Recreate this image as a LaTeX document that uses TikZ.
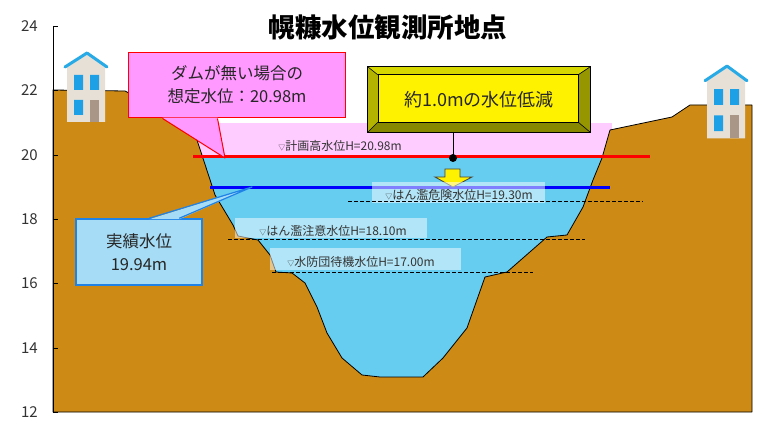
\documentclass[tikz,border=0pt]{standalone}
\usepackage{fontspec}
\setmainfont{Noto Sans CJK JP}
\usetikzlibrary{calc}

\definecolor{ground}{RGB}{205,139,22}
\definecolor{water}{RGB}{102,204,240}
\definecolor{floodpink}{RGB}{255,204,255}
\definecolor{calloutpink}{RGB}{255,153,255}
\definecolor{calloutblue}{RGB}{166,220,245}
\definecolor{calloutedge}{RGB}{30,130,230}
\definecolor{housewall}{RGB}{230,224,214}
\definecolor{winblue}{RGB}{30,160,230}
\definecolor{roofblue}{RGB}{40,170,230}
\definecolor{doorbrown}{RGB}{170,150,135}
\definecolor{bevellight}{RGB}{214,214,0}
\definecolor{beveldark}{RGB}{150,150,0}
\definecolor{bevelmid}{RGB}{180,180,0}
\definecolor{labeltext}{RGB}{51,51,51}

\tikzset{
  axislabel/.style={anchor=east, text=labeltext, font=\fontsize{15}{15}\selectfont, inner sep=0pt},
  levelbox/.style={fill=white, fill opacity=0.5, inner sep=0pt},
  leveltext/.style={text=labeltext, font=\fontsize{12}{12}\selectfont, inner sep=0pt},
  levelline/.style={black, line width=1pt, dash pattern=on 4pt off 2pt},
  house/.pic={
    \fill[housewall] (-20,15) -- (0,2) -- (18,15) -- (18,70) -- (-20,70) -- cycle;
    \draw[roofblue, line width=3pt, line join=round, line cap=round] (-22,15) -- (0,1) -- (20,15);
    \fill[winblue] (-13,23) rectangle (-4,38) (3,23) rectangle (12,38) (-13,48) rectangle (-4,63);
    \fill[doorbrown] (3,48) rectangle (12,70);
  }
}

\newcommand{\tri}{{\fontsize{7}{7}\selectfont ▽}}

\begin{document}
\begin{tikzpicture}[x=1pt, y=-1pt]
\useasboundingbox (0,0) rectangle (769,433);
\fill[white] (0,0) rectangle (769,433);

% flood zone above the water surface and the river water
\fill[floodpink] (165,123) rectangle (612,157);
\fill[water] (165,157) rectangle (612,400);

% ground cross-section
\filldraw[fill=ground, draw=black, line width=0.8pt, line join=round]
  (53,412) -- (53,90) -- (125,91) -- (165,112) -- (190,128) -- (197,140)
  -- (215,195) -- (233,225) -- (238,236) -- (258,240) -- (270,255) -- (276,272)
  -- (292,273) -- (305,283) -- (317,307) -- (327,333) -- (342,358) -- (362,375)
  -- (380,377) -- (423,377) -- (443,358) -- (467,328) -- (485,277) -- (507,272)
  -- (547,237) -- (567,235) -- (583,207) -- (593,180) -- (602,158) -- (610,130)
  -- (672,117) -- (690,105) -- (752,105) -- (752,412) -- cycle;

% vertical axis
\draw[black, line width=0.8pt] (53,26) -- (53,412);
\foreach \v/\py in {24/26,22/90,20/155,18/219,16/283,14/348,12/412}{
  \draw[black, line width=0.8pt] (53,\py) -- (58,\py);
  \node[axislabel] (lab\v) at (38,\py) {\v};
}

% planned high water level and recorded water level
\draw[red, line width=3pt] (193,157) -- (650,157);
\draw[blue, line width=3pt] (210,188) -- (610,188);

% lowering marker
\coordinate (dot) at (453,158);
\begin{scope}[shift={(dot)}]
  \filldraw[fill=yellow, draw=black!75, line width=0.8pt, line join=miter]
    (-8,11) -- (7,11) -- (7,19) -- (19,19) -- (0,29) -- (-18,19) -- (-8,19) -- cycle;
\end{scope}

% level labels
\node[leveltext] (t2098) at (340,146) {\tri 計画高水位H=20.98m};

\node[levelbox, minimum width=173pt, minimum height=21pt] (b1930) at (458.5,192.5) {};
\node[leveltext] (t1930) at (459,195) {\tri はん濫危険水位H=19.30m};

\node[levelbox, minimum width=192pt, minimum height=20pt] (b1810) at (331,228) {};
\node[leveltext] (t1810) at (333,231) {\tri はん濫注意水位H=18.10m};

\node[levelbox, minimum width=191pt, minimum height=22pt] (b1700) at (365.5,259) {};
\node[leveltext] (t1700) at (361,262) {\tri 水防団待機水位H=17.00m};

\draw[levelline] (348,202) -- (643,202);
\draw[levelline] (228,239) -- (585,239);
\draw[levelline] (272,272) -- (533,272);

% houses on both banks
\pic at (87,52) {house};
\pic[yscale=1.05] at (727,65) {house};

% callout: level without the dam
\node[fill=calloutpink, draw=red, line width=1pt, minimum width=217pt, minimum height=65pt,
      inner sep=0pt] (pk) at (236.5,85.5) {};
\coordinate (pktip) at (225,158);
\fill[calloutpink] ($(pk.south west)+(35,-0.8)$) -- ($(pk.south west)+(90,-0.8)$) -- (pktip) -- cycle;
\draw[red, line width=1pt, line join=round] ($(pk.south west)+(35,0)$) -- (pktip) -- ($(pk.south west)+(90,0)$);
\node[align=center, text=black!85, font=\fontsize{16.5}{23}\selectfont] (pktext) at (237,85)
  {ダムが無い場合の\\想定水位：20.98m};

% callout: recorded level
\node[fill=calloutblue, draw=calloutedge, line width=1.5pt, minimum width=126pt, minimum height=66pt,
      inner sep=0pt] (jb) at (139,252) {};
\coordinate (jbtip) at (252,187);
\fill[calloutblue] ($(jb.north west)+(74,1)$) -- ($(jb.north west)+(104,1)$) -- (jbtip) -- cycle;
\draw[calloutedge, line width=1.2pt, line join=round] ($(jb.north west)+(74,0)$) -- (jbtip) -- ($(jb.north west)+(104,0)$);
\node[align=center, text=black!85, font=\fontsize{16.5}{23}\selectfont] (jbtext) at (139,252)
  {実績水位\\19.94m};

% bevelled box: lowering effect of the dam
\node[minimum width=222pt, minimum height=65pt, inner sep=0pt] (dam) at (479,99.5) {};
\coordinate (ia) at ($(dam.north west)+(10,8)$);
\coordinate (ib) at ($(dam.north east)+(-12,8)$);
\coordinate (ic) at ($(dam.south east)+(-12,-10)$);
\coordinate (id) at ($(dam.south west)+(10,-10)$);
\fill[bevellight] (dam.north west) -- (dam.north east) -- (ib) -- (ia) -- cycle;
\fill[bevelmid] (dam.north west) -- (ia) -- (id) -- (dam.south west) -- cycle;
\fill[beveldark] (dam.north east) -- (dam.south east) -- (ic) -- (ib) -- cycle;
\fill[beveldark!90!black] (dam.south west) -- (id) -- (ic) -- (dam.south east) -- cycle;
\fill[yellow] (ia) rectangle (ic);
\draw[black, line width=0.8pt] (dam.north west) rectangle (dam.south east);
\draw[black, line width=0.6pt] (ia) rectangle (ic);
\draw[black, line width=0.6pt] (dam.north west) -- (ia) (dam.north east) -- (ib)
  (dam.south east) -- (ic) (dam.south west) -- (id);
\node[text=black!85, font=\fontsize{18}{18}\selectfont] (damtext) at (dam.center) {約1.0mの水位低減};

\draw[black, line width=1pt] (dot) -- (dot |- dam.south);
\fill[black] (dot) circle (4pt);

% title
\node[font=\fontsize{26.5}{26.5}\selectfont\bfseries] (title) at (388,27) {幌糠水位観測所地点};
\end{tikzpicture}
\end{document}
